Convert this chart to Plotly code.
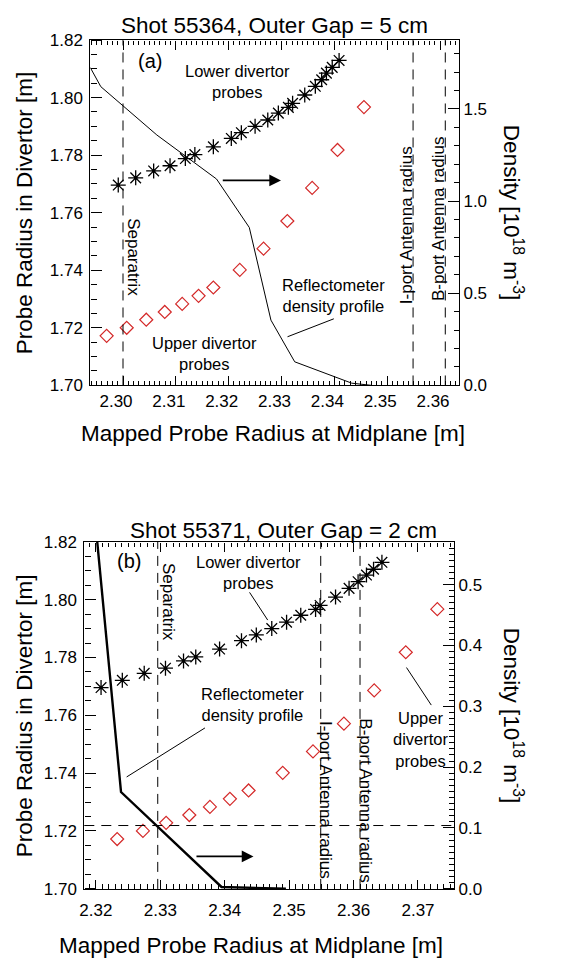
import plotly.graph_objects as go

W, H = 577, 970
FONT = "Liberation Sans, Arial, Helvetica, sans-serif"

# ---------------- data ----------------
# probe radius in divertor [m] (same probes in both shots)
lower_div_r = [1.7696, 1.7721, 1.7745, 1.7763, 1.7788, 1.7802, 1.7829, 1.7858, 1.7878, 1.7900,
               1.7922, 1.7946, 1.7966, 1.7980, 1.8009, 1.8039, 1.8062, 1.8085, 1.8105, 1.8129]
upper_div_r = [1.7172, 1.7200, 1.7228, 1.7255, 1.7283, 1.7311, 1.7340, 1.7401, 1.7475, 1.7571,
               1.7686, 1.7818, 1.7967]

# shot 55364 (outer gap 5 cm): mapped probe radius at midplane [m]
lower_mid_a = [2.2991, 2.3024, 2.3058, 2.3089, 2.3118, 2.3136, 2.3171, 2.3205, 2.3224, 2.3250,
               2.3274, 2.3294, 2.3313, 2.3321, 2.3344, 2.3364, 2.3376, 2.3385, 2.3396, 2.3409]
upper_mid_a = [2.2969, 2.3007, 2.3044, 2.3079, 2.3112, 2.3143, 2.3171, 2.3221, 2.3266, 2.3311,
               2.3358, 2.3406, 2.3456]
dens_r_a = [2.2938, 2.2958, 2.3064, 2.3177, 2.3239, 2.3280, 2.3325, 2.3433, 2.3471]
dens_a = [1.725, 1.621, 1.359, 1.120, 0.857, 0.354, 0.128, 0.012, 0.0]
sep_a = 2.300

# shot 55371 (outer gap 2 cm)
lower_mid_b = [2.3208, 2.3241, 2.3275, 2.3308, 2.3336, 2.3355, 2.3392, 2.3426, 2.3449, 2.3473,
               2.3496, 2.3518, 2.3541, 2.3548, 2.3572, 2.3593, 2.3607, 2.3620, 2.3631, 2.3644]
upper_mid_b = [2.3233, 2.3273, 2.3309, 2.3345, 2.3377, 2.3408, 2.3437, 2.3490, 2.3537, 2.3585,
               2.3632, 2.3681, 2.3730]
dens_r_b = [2.3202, 2.3239, 2.3395, 2.3495]
dens_b = [0.571, 0.159, 0.003, 0.0]
sep_b = 2.3296
dens_level_b = 0.104

iport_r = 2.3549
bport_r = 2.3610

# ---------------- layout helpers ----------------
def px(x):
    return x / W

def py(y):
    return 1 - y / H

A = dict(l=86, r=458, t=31.5, b=384)
B = dict(l=80, r=453, t=543.3, b=897.5)

RED = "#d42a2a"
TICKFONT = dict(family=FONT, size=17, color="black")

XA_RANGE = [2.2938, 2.3636]
XB_RANGE = [2.3182, 2.3756]
Y_RANGE = [1.69995, 1.82005]
YA2_RANGE = [-0.0005, 1.875]
YB2_RANGE = [-0.0002, 0.5705]

def xmain(frame, rng, anchor, shift, standoff):
    d = dict(domain=[px(frame["l"]), px(frame["r"])], range=rng, anchor=anchor,
             showline=True, linecolor="black", linewidth=1, mirror=True,
             ticks="", tick0=2.30, dtick=0.01, tickformat=".2f",
             showgrid=False, zeroline=False, tickfont=TICKFONT)
    if shift:
        d["ticklabelshift"] = shift
    if standoff:
        d["ticklabelstandoff"] = standoff
    return d

def ymain(rng, t0, dtick, fmt, anchor, side, domain=None, overlay=None, standoff=None):
    d = dict(range=rng, anchor=anchor, side=side,
             showline=True, linecolor="black", linewidth=1, mirror=False,
             ticks="", tick0=t0, dtick=dtick, tickformat=fmt,
             showgrid=False, zeroline=False, tickfont=TICKFONT)
    if domain:
        d["domain"] = domain
    if overlay:
        d["overlaying"] = overlay
    if standoff:
        d["ticklabelstandoff"] = standoff
    return d

# tick-only axes: placed on a frame edge and facing inwards, so "outside" ticks point into the panel
def xticks_edge(rng, over, pos, side):
    return dict(range=rng, overlaying=over, anchor="free", position=pos, side=side,
                showline=False, ticks="outside", ticklen=9, tickwidth=1, tickcolor="black",
                tick0=2.30, dtick=0.01, showticklabels=False, layer="above traces",
                minor=dict(dtick=0.001, ticks="outside", ticklen=4.5, tickwidth=1, tickcolor="black"),
                showgrid=False, zeroline=False)

def yticks_edge(rng, over, pos, side, t0, dtick, mdt):
    return dict(range=rng, overlaying=over, anchor="free", position=pos, side=side,
                showline=False, ticks="outside", ticklen=11, tickwidth=1, tickcolor="black",
                tick0=t0, dtick=dtick, showticklabels=False, layer="above traces",
                minor=dict(dtick=mdt, ticks="outside", ticklen=5.5, tickwidth=1, tickcolor="black"),
                showgrid=False, zeroline=False)

fig = go.Figure()

def add_panel(xa, ya, ya2, up_x, low_x, dr, dv, dens_w):
    fig.add_trace(go.Scatter(x=dr, y=dv, mode="lines", xaxis=xa, yaxis=ya2,
                             line=dict(color="black", width=dens_w), showlegend=False, hoverinfo="skip"))
    fig.add_trace(go.Scatter(x=up_x, y=upper_div_r, mode="markers", xaxis=xa, yaxis=ya,
                             marker=dict(symbol="diamond-open", size=10, color=RED, line=dict(width=1.2, color=RED)),
                             showlegend=False))
    fig.add_trace(go.Scatter(x=low_x, y=lower_div_r, mode="markers", xaxis=xa, yaxis=ya,
                             marker=dict(symbol="asterisk-open", size=12.5, color="black", line=dict(width=1.3, color="black")),
                             showlegend=False))
    fig.add_trace(go.Scatter(x=low_x, y=lower_div_r, mode="markers", xaxis=xa, yaxis=ya,
                             marker=dict(symbol="circle", size=3.5, color="black"),
                             showlegend=False, hoverinfo="skip"))

add_panel("x", "y", "y2", upper_mid_a, lower_mid_a, dens_r_a, dens_a, 1.0)
add_panel("x2", "y3", "y4", upper_mid_b, lower_mid_b, dens_r_b, dens_b, 2.4)

# empty traces so the tick-only axes get their subplots
for xa, ya in (("x3", "y"), ("x4", "y"), ("x", "y5"), ("x", "y6"),
               ("x5", "y3"), ("x6", "y3"), ("x2", "y7"), ("x2", "y8")):
    fig.add_trace(go.Scatter(x=[], y=[], xaxis=xa, yaxis=ya, mode="markers", showlegend=False, hoverinfo="skip"))

shapes = []
DASH = "10px,7px"
for xr, x0 in (("x", sep_a), ("x", iport_r), ("x", bport_r), ("x2", sep_b), ("x2", iport_r), ("x2", bport_r)):
    yref = "y domain" if xr == "x" else "y3 domain"
    shapes.append(dict(type="line", xref=xr, yref=yref, x0=x0, x1=x0, y0=0, y1=1,
                       line=dict(color="black", width=1, dash=DASH)))
shapes.append(dict(type="line", xref="x2 domain", yref="y4", x0=0, x1=1, y0=dens_level_b, y1=dens_level_b,
                   line=dict(color="black", width=1, dash=DASH)))

# pointer lines (pixels)
for (x0, y0, x1, y1) in [(331.7, 316, 285, 334.3),
                         (246.7, 595, 265, 623.3),
                         (201.7, 733.3, 122.7, 783.3),
                         (405, 671.7, 430, 710)]:
    shapes.append(dict(type="line", xref="paper", yref="paper", x0=px(x0), y0=py(y0), x1=px(x1), y1=py(y1),
                       line=dict(color="black", width=1)))

ann = []

def text(x, y, s, size=17, angle=0):
    ann.append(dict(x=px(x), y=py(y), xref="paper", yref="paper", text=s, showarrow=False,
                    textangle=angle, xanchor="center", yanchor="middle",
                    font=dict(family=FONT, size=size, color="black")))

# panel (a)
text(272, 16.7, "Shot 55364, Outer Gap = 5 cm", 22.5)
text(146.7, 53.3, "(a)", 20)
text(235, 74, "Lower divertor<br>probes", 16.5)
text(130, 253, "Separatrix", 17, 90)
text(405, 220, "I-port Antenna radius", 17, -90)
text(438, 214, "B-port Antenna radius", 17, -90)
text(331.7, 292, "Reflectometer<br>density profile", 16.5)
text(201.7, 351, "Upper divertor<br>probes", 16.5)
text(270, 433, "Mapped Probe Radius at Midplane [m]", 22.5)
text(20, 207.5, "Probe Radius in Divertor [m]", 22.5, -90)
text(512, 207.5, "Density [10<sup>18</sup> m<sup>-3</sup>]", 22.5, 90)

# panel (b)
text(281, 531.7, "Shot 55371, Outer Gap = 2 cm", 22.5)
text(125, 562.7, "(b)", 20)
text(165.7, 605, "Separatrix", 17, 90)
text(245.7, 575, "Lower divertor<br>probes", 16.5)
text(249.3, 709, "Reflectometer<br>density profile", 16.5)
text(324, 807, "I-port Antenna radius", 17, 90)
text(364, 807, "B-port Antenna radius", 17, 90)
text(419.3, 745, "Upper<br>divertor<br>probes", 16.5)
text(248, 955, "Mapped Probe Radius at Midplane [m]", 22.5)
text(20, 720.5, "Probe Radius in Divertor [m]", 22.5, -90)
text(512, 720.5, "Density [10<sup>18</sup> m<sup>-3</sup>]", 22.5, 90)

# arrows: density curve belongs to the right-hand axis
ann.append(dict(x=2.3299, y=1.7712, ax=2.3186, ay=1.7712, xref="x", yref="y", axref="x", ayref="y",
                showarrow=True, arrowhead=2, arrowsize=1.3, arrowwidth=1.8, arrowcolor="black", text=""))
ann.append(dict(x=2.34446, y=1.7112, ax=2.33538, ay=1.7112, xref="x2", yref="y3", axref="x2", ayref="y3",
                showarrow=True, arrowhead=2, arrowsize=1.3, arrowwidth=1.8, arrowcolor="black", text=""))

dom_a = [py(A["b"]), py(A["t"])]
dom_b = [py(B["b"]), py(B["t"])]

fig.update_layout(
    width=W, height=H, margin=dict(l=0, r=0, t=0, b=0),
    paper_bgcolor="white", plot_bgcolor="white", showlegend=False,
    xaxis=xmain(A, XA_RANGE, "y", -7, None),
    xaxis2=xmain(B, XB_RANGE, "y3", 0, 6),
    yaxis=ymain(Y_RANGE, 1.70, 0.02, ".2f", "x", "left", domain=dom_a, standoff=3),
    yaxis2=ymain(YA2_RANGE, 0.0, 0.5, ".1f", "x", "right", overlay="y"),
    yaxis3=ymain(Y_RANGE, 1.70, 0.02, ".2f", "x2", "left", domain=dom_b, standoff=3),
    yaxis4=ymain(YB2_RANGE, 0.0, 0.1, ".1f", "x2", "right", overlay="y3"),
    # inward-facing tick axes, panel (a)
    xaxis3=xticks_edge(XA_RANGE, "x", dom_a[0], "top"),
    xaxis4=xticks_edge(XA_RANGE, "x", dom_a[1], "bottom"),
    yaxis5=yticks_edge(Y_RANGE, "y", px(A["l"]), "right", 1.70, 0.02, 0.005),
    yaxis6=yticks_edge(YA2_RANGE, "y", px(A["r"]), "left", 0.0, 0.5, 0.1),
    # inward-facing tick axes, panel (b)
    xaxis5=xticks_edge(XB_RANGE, "x2", dom_b[0], "top"),
    xaxis6=xticks_edge(XB_RANGE, "x2", dom_b[1], "bottom"),
    yaxis7=yticks_edge(Y_RANGE, "y3", px(B["l"]), "right", 1.70, 0.02, 0.005),
    yaxis8=yticks_edge(YB2_RANGE, "y3", px(B["r"]), "left", 0.0, 0.1, 0.01),
    shapes=shapes, annotations=ann,
)

fig.write_html("out.html")
